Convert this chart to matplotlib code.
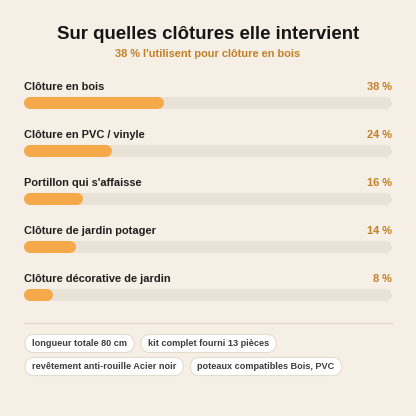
import matplotlib
matplotlib.use("Agg")
import matplotlib.pyplot as plt
from matplotlib.patches import FancyBboxPatch

categories = ["Clôture en bois", "Clôture en PVC / vinyle", "Portillon qui s'affaisse",
              "Clôture de jardin potager", "Clôture décorative de jardin"]
values = [38, 24, 16, 14, 8]
title = "Sur quelles clôtures elle intervient"
subtitle = "38 % l'utilisent pour clôture en bois"
chips = [["longueur totale 80 cm", "kit complet fourni 13 pièces"],
         ["revêtement anti-rouille Acier noir", "poteaux compatibles Bois, PVC"]]

BG = "#f5efe6"
FILL = "#f5a94a"
TRACK = "#e9e2d6"
ACCENT = "#c47f26"
DARK = "#1f1f1f"
FONT = ["Liberation Sans", "DejaVu Sans"]

W = H = 416
fig = plt.figure(figsize=(W / 100, H / 100), dpi=100, facecolor=BG)

# overlay axes in pixel coords
ov = fig.add_axes([0, 0, 1, 1])
ov.set_xlim(0, W)
ov.set_ylim(H, 0)
ov.axis("off")
ov.patch.set_alpha(0)

ov.text(W / 2, 34.5, title, ha="center", va="center", fontsize=13.4, fontweight="bold",
        color="#161616", family=FONT)
ov.text(W / 2, 54, subtitle, ha="center", va="center", fontsize=7.9, fontweight="bold",
        color=ACCENT, family=FONT)

# bar axes: x in data units 0-100, y in pixel rows
left, right = 24, 392
bx = fig.add_axes([left / W, 0, (right - left) / W, 1])
bx.set_xlim(0, 100)
bx.set_ylim(H, 0)
bx.axis("off")
bx.patch.set_alpha(0)

bar_h = 12  # px
r = (bar_h / 2) * 100 / (right - left)
lw_pt = bar_h * 72 / 100
for i, (cat, v) in enumerate(zip(categories, values)):
    yb = 103 + 48 * i
    yl = 86.8 + 48 * i
    bx.plot([r, 100 - r], [yb, yb], color=TRACK, lw=lw_pt, solid_capstyle="round")
    bx.plot([r, max(v - r, r)], [yb, yb], color=FILL, lw=lw_pt, solid_capstyle="round")
    bx.text(0, yl, cat, ha="left", va="center", fontsize=7.9, fontweight="bold",
            color=DARK, family=FONT)
    bx.text(100, yl, f"{v} %", ha="right", va="center", fontsize=7.9, fontweight="bold",
            color=ACCENT, family=FONT)

# separator
ov.plot([left, right], [322.5, 322.5], color="#e4dacb", lw=0.9)

# chips
fig.canvas.draw()
renderer = fig.canvas.get_renderer()
padx = 7
chip_h = 18
gap = 7
for row, items in enumerate(chips):
    yc = 343.5 + 23 * row
    x = 25
    for txt in items:
        t = ov.text(x + padx, yc, txt, ha="left", va="center", fontsize=6.6,
                    fontweight="bold", color="#3d3d3d", family=FONT, zorder=3)
        bb = t.get_window_extent(renderer)
        tw = bb.width
        wbox = tw + 2 * padx
        p = FancyBboxPatch((x, yc - chip_h / 2), wbox, chip_h,
                           boxstyle=f"round,pad=0,rounding_size={chip_h/2}",
                           facecolor="white", edgecolor="#e6dccd", lw=0.8, zorder=2)
        ov.add_patch(p)
        x += wbox + gap

fig.savefig("out.png", dpi=100, facecolor=BG)
